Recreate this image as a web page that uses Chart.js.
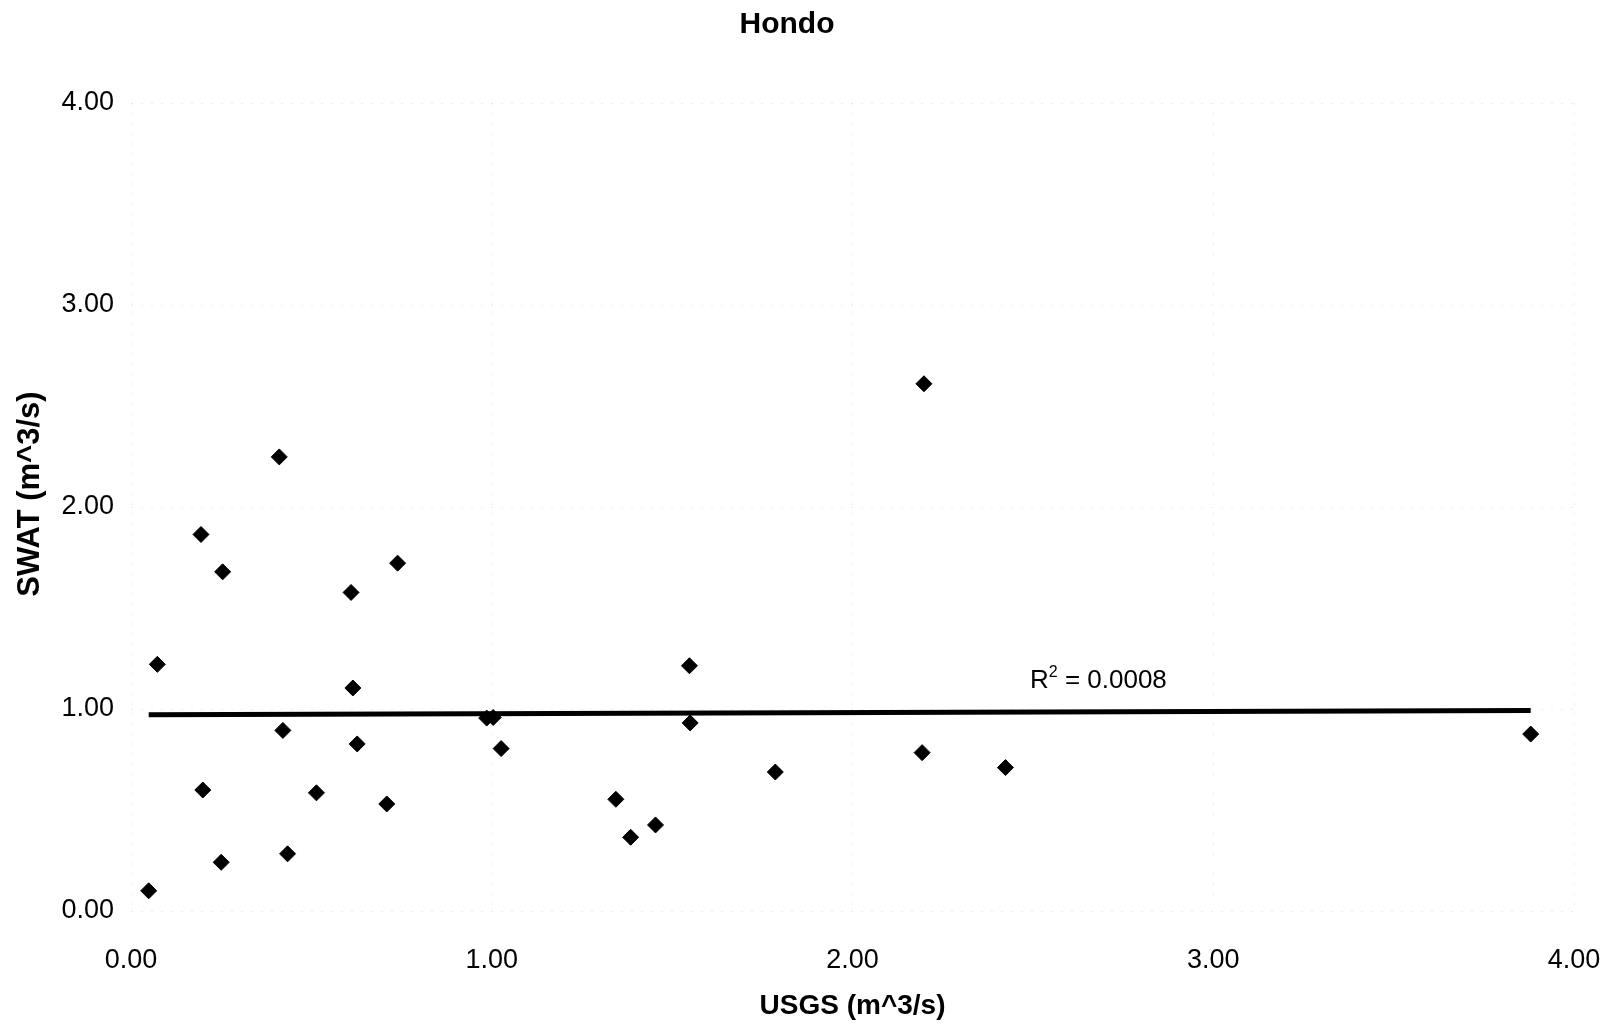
<!DOCTYPE html>
<html>
<head>
<meta charset="utf-8">
<title>Hondo</title>
<script src="https://cdn.jsdelivr.net/npm/chart.js@4.4.1/dist/chart.umd.min.js"></script>
<style>
  html, body { margin: 0; padding: 0; background: #fff; }
  #wrap { width: 1615px; height: 1030px; }
</style>
</head>
<body>
<div id="wrap"><canvas id="grafico"></canvas></div>
<script>
// Vazões observadas (USGS) e simuladas (SWAT), m^3/s
const usgs = [0.049, 0.073, 0.194, 0.199, 0.254, 0.250, 0.411, 0.421, 0.434, 0.514,
              0.610, 0.615, 0.627, 0.709, 0.739, 0.986, 1.004, 1.026, 1.344, 1.385,
              1.454, 1.548, 1.550, 1.786, 2.193, 2.198, 2.424, 3.880];
const swat = [0.100, 1.221, 1.864, 0.599, 1.679, 0.241, 2.248, 0.894, 0.283, 0.585,
              1.577, 1.104, 0.827, 0.530, 1.722, 0.955, 0.958, 0.804, 0.553, 0.365,
              0.426, 1.214, 0.931, 0.688, 0.784, 2.610, 0.710, 0.876];
const xTicks = [0, 1, 2, 3, 4];
const yTicks = [0, 1, 2, 3, 4];
const r2Label = "0.0008";

const fonte = "'Liberation Sans', Arial, Helvetica, sans-serif";

// Linha de tendência linear (mínimos quadrados)
function tendencia(xs, ys) {
  const n = xs.length;
  const mx = xs.reduce((s, v) => s + v, 0) / n;
  const my = ys.reduce((s, v) => s + v, 0) / n;
  let sxy = 0, sxx = 0;
  for (let i = 0; i < n; i++) {
    sxy += (xs[i] - mx) * (ys[i] - my);
    sxx += (xs[i] - mx) * (xs[i] - mx);
  }
  const b = sxy / sxx;
  const a = my - b * mx;
  const x0 = Math.min(...xs), x1 = Math.max(...xs);
  return [{ x: x0, y: a + b * x0 }, { x: x1, y: a + b * x1 }];
}

const pontos = usgs.map((v, i) => ({ x: v, y: swat[i] }));

// Rótulo do R² e título do eixo Y
const textos = {
  id: "textos",
  afterDraw(chart) {
    const ctx = chart.ctx;
    ctx.save();
    ctx.fillStyle = "#000";
    ctx.textBaseline = "alphabetic";
    ctx.textAlign = "left";
    let x = 1030;
    const y = 688;
    ctx.font = "26px " + fonte;
    ctx.fillText("R", x, y);
    x += ctx.measureText("R").width;
    ctx.font = "16px " + fonte;
    ctx.fillText("2", x, y - 11);
    x += ctx.measureText("2").width;
    ctx.font = "26px " + fonte;
    ctx.fillText(" = " + r2Label, x, y);

    // título do eixo Y, girado
    ctx.translate(30, 494);
    ctx.rotate(-Math.PI / 2);
    ctx.textAlign = "center";
    ctx.textBaseline = "middle";
    ctx.font = "bold 31px " + fonte;
    ctx.fillText("SWAT (m^3/s)", 0, 0);
    ctx.restore();
  }
};

document.addEventListener("DOMContentLoaded", function () {
  const ctx = document.getElementById("grafico").getContext("2d");
  new Chart(ctx, {
    type: "scatter",
    data: {
      datasets: [
        {
          label: "SWAT x USGS",
          data: pontos,
          pointStyle: "rectRot",
          pointRadius: 8,
          pointBackgroundColor: "#000",
          pointBorderColor: "#000",
          pointBorderWidth: 1,
          order: 0
        },
        {
          type: "line",
          label: "Linear",
          data: tendencia(usgs, swat),
          borderColor: "#000",
          borderWidth: 5,
          pointRadius: 0,
          fill: false,
          order: 1
        }
      ]
    },
    options: {
      responsive: true,
      maintainAspectRatio: false,
      animation: false,
      layout: { padding: { left: 0, right: 41, top: 0, bottom: 0 } },
      plugins: {
        legend: { display: false },
        tooltip: { enabled: false },
        title: {
          display: true,
          text: "Hondo",
          color: "#000",
          font: { family: fonte, size: 30, weight: "bold", lineHeight: 1.2 },
          padding: { top: 7, bottom: 60 }
        }
      },
      scales: {
        x: {
          type: "linear",
          min: 0,
          max: 4,
          afterBuildTicks: (s) => { s.ticks = xTicks.map(v => ({ value: v })); },
          afterFit: (s) => { s.height = 119; s.paddingLeft = 0; s.paddingRight = 0; },
          grid: { color: "rgba(0,0,0,0.07)", drawTicks: false },
          border: { display: false, dash: [2, 8] },
          ticks: {
            color: "#000",
            padding: 33,
            font: { family: fonte, size: 27 },
            callback: (v) => Number(v).toFixed(2)
          },
          title: {
            display: true,
            text: "USGS (m^3/s)",
            color: "#000",
            font: { family: fonte, size: 28, weight: "bold", lineHeight: 1.2 },
            padding: { top: 0, bottom: 7 }
          }
        },
        y: {
          type: "linear",
          min: 0,
          max: 4,
          afterBuildTicks: (s) => { s.ticks = yTicks.map(v => ({ value: v })); },
          afterFit: (s) => { s.width = 131; },
          grid: { color: "rgba(0,0,0,0.07)", drawTicks: false },
          border: { display: false, dash: [2, 8] },
          ticks: {
            color: "#000",
            padding: 17,
            font: { family: fonte, size: 27 },
            callback: (v) => Number(v).toFixed(2)
          }
        }
      }
    },
    plugins: [textos]
  });
});
</script>
</body>
</html>
